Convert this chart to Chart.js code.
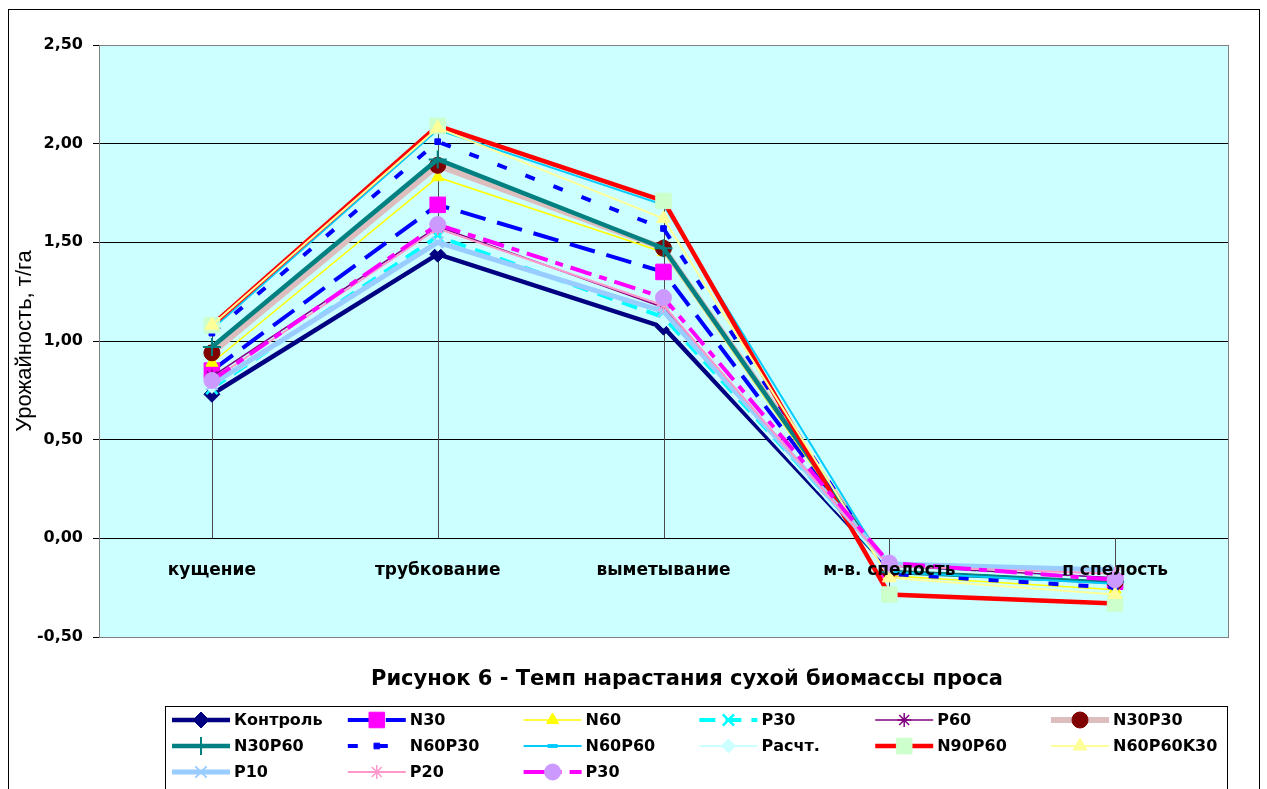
<!DOCTYPE html>
<html><head><meta charset="utf-8">
<script src="https://cdn.jsdelivr.net/npm/chart.js@4"></script>
<style>html,body{margin:0;padding:0;background:#fff;}</style>
</head><body>
<canvas id="c" width="1267" height="789"></canvas>
<script>
// ---- data ----
const categories = ['кущение', 'трубкование', 'выметывание', 'м-в. спелость', 'п спелость'];
const yTicks = [-0.5, 0, 0.5, 1.0, 1.5, 2.0, 2.5];
const chartTitle = 'Рисунок 6 - Темп нарастания сухой биомассы проса';
const yAxisTitle = 'Урожайность, т/га';

const seriesNames = ['Контроль', 'N30', 'N60', 'P30', 'P60', 'N30P30',
  'N30P60', 'N60P30', 'N60P60', 'Расчт.', 'N90P60', 'N60P60K30',
  'P10', 'P20', 'P30'];

const control   = [0.73, 1.44, 1.07, -0.15, -0.22];
const n30       = [0.85, 1.69, 1.35, -0.16, -0.22];
const n60       = [0.89, 1.83, 1.45, -0.19, -0.26];
const p30a      = [0.76, 1.53, 1.12, -0.15, -0.21];
const p60       = [0.82, 1.58, 1.17, -0.14, -0.20];
const n30p30    = [0.94, 1.89, 1.47, -0.16, -0.22];
const n30p60    = [0.97, 1.92, 1.47, -0.17, -0.22];
const n60p30    = [1.04, 2.01, 1.57, -0.18, -0.25];
const n60p60    = [1.06, 2.07, 1.69, -0.17, -0.23];
const raschet   = [0.77, 1.49, 1.10, -0.15, -0.21];
const n90p60    = [1.08, 2.09, 1.71, -0.285, -0.33];
const n60p60k30 = [1.08, 2.08, 1.62, -0.20, -0.285];
const p10       = [0.78, 1.50, 1.15, -0.13, -0.16];
const p20       = [0.80, 1.57, 1.18, -0.14, -0.18];
const p30b      = [0.80, 1.59, 1.22, -0.125, -0.21];

const seriesValues = [control, n30, n60, p30a, p60, n30p30, n30p60, n60p30,
  n60p60, raschet, n90p60, n60p60k30, p10, p20, p30b];

// ---- styles ----
const styles = [
  {c:'#000080', w:4.5, d:[], ps:'rectRot', r:8, pf:'#000080', pb:'#000080', pw:1},
  {c:'#0000FF', w:4, d:[26,12], ps:'rect', r:11, pf:'#FF00FF', pb:'#FF00FF', pw:1},
  {c:'#FFFF00', w:1.5, d:[], ps:'triangle', r:7, pf:'#FFFF00', pb:'#FFFF00', pw:1},
  {c:'#00FFFF', w:4, d:[16,10], ps:'crossRot', r:8, pf:'#00FFFF', pb:'#00FFFF', pw:2.5},
  {c:'#800080', w:1.5, d:[], ps:'star', r:7, pf:'#800080', pb:'#800080', pw:1.5},
  {c:'#DDBEBE', w:6, d:[], ps:'circle', r:8, pf:'#800000', pb:'#800000', pw:1},
  {c:'#008080', w:4.5, d:[], ps:'cross', r:9, pf:'#008080', pb:'#008080', pw:2},
  {c:'#0000FF', w:4, d:[10,20], ps:'rect', r:4, pf:'#0000FF', pb:'#0000FF', pw:1},
  {c:'#00CCFF', w:2, d:[], ps:'line', r:5, pf:'#00CCFF', pb:'#00CCFF', pw:4},
  {c:'#CCFFFF', w:2, d:[], ps:'rectRot', r:7, pf:'#CCFFFF', pb:'#CCFFFF', pw:1},
  {c:'#FF0000', w:4.5, d:[], ps:'rect', r:11, pf:'#CCFFCC', pb:'#CCFFCC', pw:1},
  {c:'#FFFF99', w:2, d:[], ps:'triangle', r:8, pf:'#FFFF99', pb:'#FFFF99', pw:1},
  {c:'#99CCFF', w:5, d:[], ps:'crossRot', r:8, pf:'#99CCFF', pb:'#99CCFF', pw:2},
  {c:'#FF99CC', w:2, d:[], ps:'star', r:7, pf:'#FF99CC', pb:'#FF99CC', pw:1.5},
  {c:'#FF00FF', w:4, d:[22,8,8,8], ps:'circle', r:8, pf:'#CC99FF', pb:'#CC99FF', pw:1}
];

const N = seriesNames.length;
const datasets = seriesNames.map((name, i) => {
  const s = styles[i];
  return {
    label: name,
    data: seriesValues[i],
    borderColor: s.c,
    backgroundColor: s.c,
    borderWidth: s.w,
    borderDash: s.d,
    tension: 0,
    fill: false,
    pointStyle: s.ps,
    pointRadius: s.r,
    pointBackgroundColor: s.pf,
    pointBorderColor: s.pb,
    pointBorderWidth: s.pw,
    order: N - i
  };
});

const FONT = 'DejaVu Sans';

const framePlugin = {
  id: 'frame',
  beforeDraw(chart) {
    const {ctx, chartArea: a} = chart;
    ctx.save();
    ctx.fillStyle = '#fff';
    ctx.fillRect(0, 0, chart.width, chart.height);
    ctx.strokeStyle = '#000';
    ctx.lineWidth = 1;
    ctx.strokeRect(8.5, 9.5, 1251, 800);
    ctx.fillStyle = '#CCFFFF';
    ctx.fillRect(a.left, a.top, a.right - a.left, a.bottom - a.top);
    ctx.restore();
  },
  beforeDatasetsDraw(chart) {
    const {ctx, chartArea: a, scales} = chart;
    ctx.save();
    ctx.strokeStyle = '#808080';
    ctx.lineWidth = 1;
    ctx.strokeRect(Math.round(a.left) + 0.5, Math.round(a.top) + 0.5,
      Math.round(a.right - a.left), Math.round(a.bottom - a.top));
    // drop lines
    ctx.strokeStyle = '#4a4a4a';
    categories.forEach((c, i) => {
      let hi = 0, lo = 0;
      seriesValues.forEach(arr => { hi = Math.max(hi, arr[i]); lo = Math.min(lo, arr[i]); });
      const x = Math.round(scales.x.getPixelForValue(i)) + 0.5;
      ctx.beginPath();
      ctx.moveTo(x, scales.y.getPixelForValue(hi));
      ctx.lineTo(x, scales.y.getPixelForValue(lo));
      ctx.stroke();
    });
    ctx.restore();
  },
  afterDraw(chart) {
    const ctx = chart.ctx;
    ctx.save();
    // title
    ctx.fillStyle = '#000';
    ctx.font = 'bold 21px "' + FONT + '"';
    ctx.textAlign = 'center';
    ctx.textBaseline = 'middle';
    ctx.fillText(chartTitle, 687, 680);
    // legend box
    ctx.strokeStyle = '#000';
    ctx.lineWidth = 1;
    ctx.strokeRect(165.5, 706.5, 1062, 100);
    ctx.font = 'bold 16px "' + FONT + '"';
    ctx.textAlign = 'left';
    seriesNames.forEach((name, i) => {
      const s = styles[i];
      const col = i % 6, row = Math.floor(i / 6);
      const x0 = 172 + col * 175.8;
      const y = 720 + row * 26;
      ctx.save();
      ctx.beginPath();
      ctx.strokeStyle = s.c;
      ctx.lineWidth = s.w;
      ctx.setLineDash(s.d);
      ctx.moveTo(x0, y);
      ctx.lineTo(x0 + 58, y);
      ctx.stroke();
      ctx.setLineDash([]);
      ctx.fillStyle = s.pf;
      ctx.strokeStyle = s.pb;
      ctx.lineWidth = s.pw;
      Chart.helpers.drawPoint(ctx, {pointStyle: s.ps, radius: s.r, rotation: 0, borderWidth: s.pw}, x0 + 29, y);
      ctx.restore();
      ctx.fillStyle = '#000';
      ctx.textBaseline = 'middle';
      ctx.fillText(name, x0 + 62, y + 1);
    });
    ctx.restore();
  }
};

new Chart(document.getElementById('c'), {
  type: 'line',
  data: { labels: categories, datasets },
  options: {
    responsive: false,
    devicePixelRatio: 1,
    animation: false,
    layout: { padding: { left: 0, right: 39, top: 45, bottom: 152 } },
    plugins: { legend: { display: false }, title: { display: false }, tooltip: { enabled: false } },
    scales: {
      x: {
        type: 'category',
        position: { y: 0 },
        offset: true,
        grid: { display: false, drawTicks: false },
        border: { display: false },
        ticks: { z: 1, color: '#000', font: { family: FONT, weight: 'bold', size: 17 }, padding: 22, maxRotation: 0, autoSkip: false }
      },
      y: {
        min: -0.5, max: 2.5,
        afterBuildTicks(scale) { scale.ticks = yTicks.map(v => ({ value: v })); },
        afterFit(scale) { scale.width = 99; },
        ticks: {
          color: '#000', padding: 10,
          font: { family: FONT, weight: 'bold', size: 16 },
          callback: v => Number(v).toFixed(2).replace('.', ',')
        },
        grid: {
          color: ctx => (ctx.tick && (ctx.tick.value === 2.5 || ctx.tick.value === -0.5)) ? '#808080' : '#000',
          lineWidth: 1, tickLength: 6, tickColor: '#000'
        },
        border: { color: '#000' },
        title: {
          display: true, text: yAxisTitle, color: '#000',
          font: { family: 'Liberation Sans', size: 22, weight: 'normal' },
          padding: { top: 12, bottom: 0 }
        }
      }
    }
  },
  plugins: [framePlugin]
});
</script>
</body></html>
